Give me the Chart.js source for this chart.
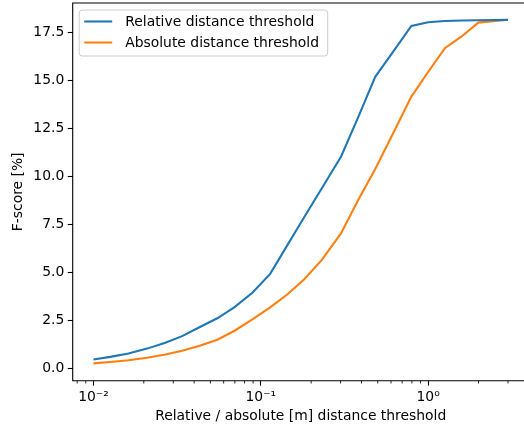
<!DOCTYPE html>
<html>
<head>
<meta charset="utf-8">
<script src="https://cdn.jsdelivr.net/npm/chart.js@4.4.1/dist/chart.umd.min.js"></script>
<style>
  html, body { margin: 0; padding: 0; background: #fff; overflow: hidden; }
  canvas { display: block; }
</style>
</head>
<body>
<canvas id="myChart" width="540" height="429"></canvas>
<script>
// thresholds (relative, or absolute in m)
var thresholds = [0.01, 0.0126, 0.0162, 0.0209, 0.0269, 0.0339, 0.0427, 0.055, 0.0697, 0.0891,
  0.1138, 0.1445, 0.182, 0.2317, 0.302, 0.380, 0.483, 0.617, 0.794, 1.0, 1.259, 1.585, 1.995, 3.0];
var relativeScore = [0.48, 0.62, 0.80, 1.05, 1.36, 1.70, 2.15, 2.63, 3.21, 3.96,
  4.94, 6.45, 7.9, 9.4, 11.05, 13.05, 15.2, 16.5, 17.85, 18.04, 18.1, 18.13, 18.14, 18.16];
var absoluteScore = [0.28, 0.35, 0.44, 0.57, 0.74, 0.94, 1.19, 1.51, 1.98, 2.57,
  3.2, 3.88, 4.66, 5.67, 7.06, 8.75, 10.4, 12.25, 14.17, 15.45, 16.69, 17.3, 18.02, 18.17];

var seriesNames = ["Relative distance threshold", "Absolute distance threshold"];
var seriesColors = ["#1f77b4", "#ff7f0e"];

var xTicks = [0.01, 0.1, 1];
var xTickLabels = ["10\u207B\u00B2", "10\u207B\u00B9", "10\u2070"];
var xMinorTicks = [0.008, 0.009, 0.02, 0.03, 0.04, 0.05, 0.06, 0.07, 0.08, 0.09,
  0.2, 0.3, 0.4, 0.5, 0.6, 0.7, 0.8, 0.9, 2, 3];
var yTicks = [0, 2.5, 5, 7.5, 10, 12.5, 15, 17.5];

var FONT = "'DejaVu Sans', sans-serif";
var FS = 13.9;

function pts(xs, ys) {
  return xs.map(function (x, i) { return {x: x, y: ys[i]}; });
}

function noPad(scale) {
  scale.paddingTop = 0;
  scale.paddingBottom = 0;
  scale.paddingLeft = 0;
  scale.paddingRight = 0;
}

// spines, minor ticks and legend drawn like matplotlib
var extras = {
  id: 'extras',
  afterDraw: function (chart) {
    var ctx = chart.ctx;
    var a = chart.chartArea;
    var xs = chart.scales.x;
    var right = xs.getPixelForValue(xs.max);
    ctx.save();
    ctx.strokeStyle = '#000';
    ctx.lineWidth = 1.1;
    ctx.beginPath();
    ctx.moveTo(right, a.top);
    ctx.lineTo(a.left, a.top);
    ctx.lineTo(a.left, a.bottom);
    ctx.lineTo(right, a.bottom);
    ctx.stroke();

    // minor ticks
    ctx.lineWidth = 0.85;
    ctx.beginPath();
    xMinorTicks.forEach(function (v) {
      var px = xs.getPixelForValue(v);
      ctx.moveTo(px, a.bottom);
      ctx.lineTo(px, a.bottom + 2.8);
    });
    ctx.stroke();

    // legend
    var lx = a.left + 6.5, ly = a.top + 7, lw = 248.5, lh = 46;
    ctx.beginPath();
    ctx.roundRect(lx, ly, lw, lh, 3);
    ctx.fillStyle = 'rgba(255,255,255,0.8)';
    ctx.fill();
    ctx.strokeStyle = '#cccccc';
    ctx.lineWidth = 1;
    ctx.stroke();
    ctx.font = FS + 'px ' + FONT;
    ctx.textBaseline = 'middle';
    ctx.textAlign = 'left';
    chart.data.datasets.forEach(function (ds, i) {
      var y = ly + 11.5 + i * 21;
      ctx.beginPath();
      ctx.strokeStyle = ds.borderColor;
      ctx.lineWidth = 2.08;
      ctx.moveTo(lx + 5, y);
      ctx.lineTo(lx + 33, y);
      ctx.stroke();
      ctx.fillStyle = '#000';
      ctx.fillText(ds.label, lx + 46, y + 0.5);
    });
    ctx.restore();
  }
};

var ctx = document.getElementById("myChart").getContext('2d');
var chart = new Chart(ctx, {
  type: 'line',
  data: {
    datasets: [{
      label: seriesNames[0],
      data: pts(thresholds, relativeScore),
      borderColor: seriesColors[0],
      borderWidth: 2.08,
      pointRadius: 0,
      tension: 0
    }, {
      label: seriesNames[1],
      data: pts(thresholds, absoluteScore),
      borderColor: seriesColors[1],
      borderWidth: 2.08,
      pointRadius: 0,
      tension: 0
    }]
  },
  options: {
    responsive: false,
    animation: false,
    devicePixelRatio: 1,
    layout: { padding: { left: 0, top: 3, right: 11.3, bottom: 0 } },
    plugins: {
      legend: { display: false },
      tooltip: { enabled: false }
    },
    scales: {
      x: {
        type: 'logarithmic',
        min: 0.00752,
        max: 3.99,
        afterBuildTicks: function (scale) {
          scale.ticks = xTicks.map(function (v) { return {value: v}; });
        },
        afterFit: function (scale) { scale.height = 48.3; noPad(scale); },
        grid: { drawOnChartArea: false, drawTicks: true, tickLength: 4.9, tickColor: '#000', tickWidth: 1.1 },
        border: { display: false },
        ticks: {
          autoSkip: false,
          maxRotation: 0,
          padding: 3.5,
          color: '#000',
          font: { family: FONT, size: FS },
          callback: function (value) {
            var i = xTicks.indexOf(value);
            return i >= 0 ? xTickLabels[i] : '';
          }
        },
        title: {
          display: true,
          text: 'Relative / absolute [m] distance threshold',
          color: '#000',
          font: { family: FONT, size: FS },
          padding: { top: 0, bottom: 4.7 }
        }
      },
      y: {
        type: 'linear',
        min: -0.62,
        max: 19.04,
        afterBuildTicks: function (scale) {
          scale.ticks = yTicks.map(function (v) { return {value: v}; });
        },
        afterFit: function (scale) { scale.width = 72.7; noPad(scale); },
        grid: { drawOnChartArea: false, drawTicks: true, tickLength: 4.9, tickColor: '#000', tickWidth: 1.1 },
        border: { display: false },
        ticks: {
          padding: 3.5,
          color: '#000',
          font: { family: FONT, size: FS },
          callback: function (value) { return value.toFixed(1); }
        },
        title: {
          display: true,
          text: 'F-score [%]',
          color: '#000',
          font: { family: FONT, size: FS },
          padding: { top: 10.2, bottom: 0 }
        }
      }
    }
  },
  plugins: [extras]
});
</script>
</body>
</html>
